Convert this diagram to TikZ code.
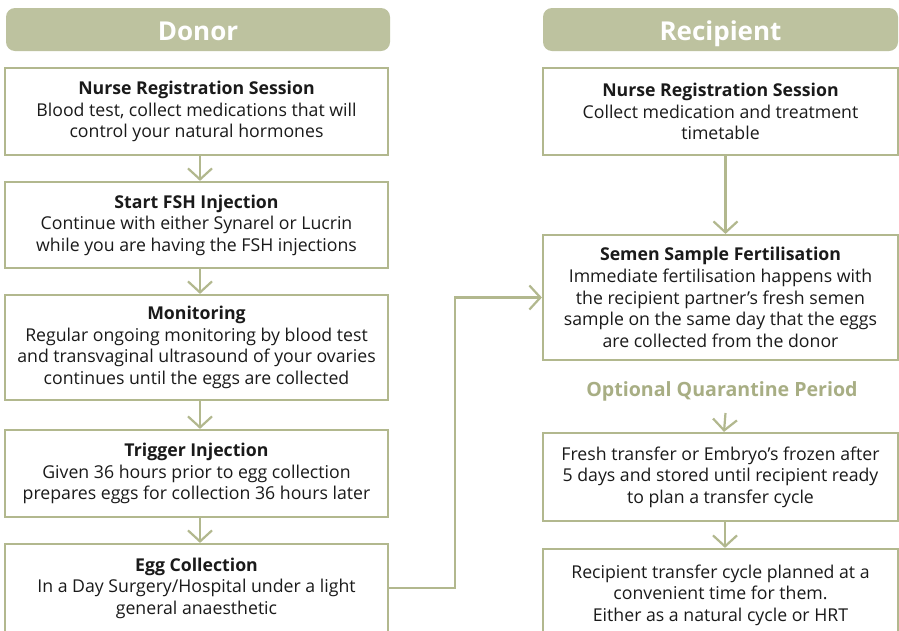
\documentclass[tikz,border=0pt]{standalone}
\usepackage{fontspec}
\setmainfont{Open Sans}
\usetikzlibrary{arrows.meta}
\definecolor{olive}{RGB}{189,194,159}
\definecolor{oliveline}{RGB}{178,184,142}
\definecolor{olivetext}{RGB}{168,174,132}
\definecolor{ink}{RGB}{26,26,26}
\tikzset{
  header/.style={fill=olive, rounded corners=9pt, minimum width=384pt, minimum height=43pt, inner sep=0pt, text=white, text height=22.5pt, text depth=0pt, font=\fontsize{26}{30}\selectfont\bfseries},
  stepbox/.style={draw=oliveline, line width=2.2pt, fill=white, inner sep=0pt, align=center, text=ink, font=\fontsize{17.7}{21.6}\selectfont},
  conn/.style={draw=oliveline, line width=2.2pt, -{Straight Barb[length=11pt,width=24pt,line width=2.2pt]}},
}
\newcommand{\ttl}[1]{{\bfseries #1}}
\begin{document}
\begin{tikzpicture}[x=1pt,y=-1pt]
\useasboundingbox (0,0) rectangle (899,630);
\clip (0,0) rectangle (899,630);
\fill[white] (0,0) rectangle (899,630);
% headers
\node[header] (hd) at (198,29.5) {Donor};
\node[header, minimum width=355pt] (hr) at (720.5,29.5) {Recipient};
% donor column
\node[stepbox, minimum width=383pt, minimum height=87pt] (d1) at (196.5,111.5)
  {\ttl{Nurse Registration Session}\\Blood test, collect medications that will\\control your natural hormones};
\node[stepbox, minimum width=383pt, minimum height=86pt] (d2) at (196.5,225)
  {\ttl{Start FSH Injection}\\Continue with either Synarel or Lucrin\\while you are having the FSH injections};
\node[stepbox, minimum width=383pt, minimum height=105pt] (d3) at (196.5,347.5)
  {\ttl{Monitoring}\\Regular ongoing monitoring by blood test\\and transvaginal ultrasound of your ovaries\\continues until the eggs are collected};
\node[stepbox, minimum width=383pt, minimum height=87pt] (d4) at (196.5,473.5)
  {\ttl{Trigger Injection}\\Given 36 hours prior to egg collection\\prepares eggs for collection 36 hours later};
\node[stepbox, minimum width=383pt, minimum height=88pt] (d5) at (196.5,588)
  {\ttl{Egg Collection}\\In a Day Surgery/Hospital under a light\\general anaesthetic};
% recipient column
\node[stepbox, minimum width=355pt, minimum height=87pt] (r1) at (720.5,111.5)
  {\ttl{Nurse Registration Session}\\Collect medication and treatment\\timetable};
\node[stepbox, minimum width=355pt, minimum height=125pt] (r2) at (720.5,297.5)
  {\ttl{Semen Sample Fertilisation}\\Immediate fertilisation happens with\\the recipient partner’s fresh semen\\sample on the same day that the eggs\\are collected from the donor};
\node[font=\fontsize{19.6}{23}\selectfont\bfseries, text=olivetext, inner sep=0pt] (opt) at (722,391) {Optional Quarantine Period};
\node[stepbox, minimum width=355pt, minimum height=88pt] (r3) at (720.5,477)
  {Fresh transfer or Embryo’s frozen after\\5 days and stored until recipient ready\\to plan a transfer cycle};
\node[stepbox, minimum width=355pt, minimum height=92pt] (r4) at (720.5,595)
  {Recipient transfer cycle planned at a\\convenient time for them.\\Either as a natural cycle or HRT};
% connectors
\draw[conn] ([xshift=3.5pt]d1.south) -- ([xshift=3.5pt]d2.north);
\draw[conn] ([xshift=3.5pt]d2.south) -- ([xshift=3.5pt]d3.north);
\draw[conn] ([xshift=3.5pt]d3.south) -- ([xshift=3.5pt]d4.north);
\draw[conn] ([xshift=3.5pt]d4.south) -- ([xshift=3.5pt]d5.north);
\draw[conn] ([xshift=5pt]r1.south) -- ([xshift=5pt]r2.north);
\draw[conn] ([xshift=3.5pt,yshift=-12pt]opt.south) -- ([xshift=3.5pt]r3.north);
\draw[conn] ([xshift=4.5pt]r3.south) -- ([xshift=4.5pt]r4.north);
\draw[conn] (d5.east) -- ++(66,0) |- (r2.west);
\end{tikzpicture}
\end{document}
